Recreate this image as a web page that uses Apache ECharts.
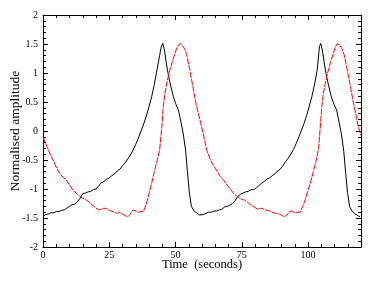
<!DOCTYPE html>
<html>
<head>
<meta charset="utf-8">
<script src="https://cdn.jsdelivr.net/npm/echarts@6/dist/echarts.min.js"></script>
<style>html,body{margin:0;padding:0;background:#fff}#c{width:376px;height:291px}</style>
</head>
<body>
<div id="c"></div>
<script>
var blackTime = [0,1,2,3,4,5,6,7,8,9,10,11,12,13,14,15,16,17,18,19,20,21,22,23,24,25,26,27,28,29,30,31,32,33,34,35,36,37,38,39,40,41,42,43,44,44.6,45.2,45.8,46.7,47.5,48.3,49.2,50.1,51.1,52,52.9,53.8,54.5,55.2,56,57,58,59,59.6,60.5,61.5,62.5,63.5,64.5,65.5,66.5,67.5,68.5,69.5,70.5,71.5,72.5,73.5,74.5,75.5,76.5,77.5,78.5,79.5,80.5,81.5,82.5,83.5,84.5,85.5,86.5,87.5,88.5,89.5,90.5,91.5,92.5,93.5,94.5,95.5,96.5,97.5,98.5,99.5,100.5,101.5,102.5,103.5,104.1,104.3,104.8,105.4,106.3,107.1,107.9,108.8,109.8,110.8,111.7,112.6,113.5,114.2,114.9,115.7,116.6,117.5,118.5,119.6];
var blackAmp = [-1.47,-1.44,-1.43,-1.41,-1.41,-1.39,-1.39,-1.37,-1.36,-1.33,-1.30,-1.27,-1.26,-1.22,-1.16,-1.08,-1.07,-1.05,-1.04,-1.01,-1.00,-0.95,-0.89,-0.87,-0.83,-0.81,-0.77,-0.74,-0.69,-0.66,-0.60,-0.55,-0.48,-0.41,-0.33,-0.23,-0.12,0.00,0.12,0.26,0.42,0.59,0.80,1.05,1.30,1.45,1.51,1.40,1.12,0.92,0.76,0.59,0.47,0.36,0.17,-0.04,-0.33,-0.70,-1.05,-1.30,-1.38,-1.41,-1.45,-1.47,-1.44,-1.42,-1.40,-1.40,-1.38,-1.38,-1.36,-1.35,-1.31,-1.30,-1.28,-1.25,-1.20,-1.13,-1.09,-1.07,-1.05,-1.04,-1.01,-1.01,-0.98,-0.94,-0.90,-0.87,-0.83,-0.81,-0.77,-0.74,-0.69,-0.66,-0.60,-0.53,-0.47,-0.40,-0.32,-0.22,-0.11,0.01,0.13,0.27,0.43,0.60,0.81,1.06,1.35,1.45,1.51,1.40,1.12,0.92,0.76,0.59,0.46,0.36,0.16,-0.05,-0.35,-0.72,-1.06,-1.30,-1.38,-1.42,-1.45,-1.48];
var redTime = [0,1,2,3,4,5,6,7,8,9,10,11,12,13,14,15,16,17,18,19,20,21,22,23,24,25,26,27,28,29,30,31,32,33,34,35,36,37,38,39,40,41,42,43,44,44.8,45.4,46,46.7,47.3,47.9,48.8,49.8,50.7,51.7,52.6,53.4,54.2,55.2,56.1,57,57.8,58.6,59.5,60.5,61.8,63,64,65,66,67,68,69,70,71,72,73,74,75,76,77,78,79,80,81,82,83,84,85,86,87,88,89,90,91,92,93,94,95,96,97,98,99,100,101,102,103,104,104.6,105.2,105.8,106.5,107.1,107.7,108.6,109.6,110.3,111.1,112,112.8,113.6,114.6,115.8,117,118,119,120];
var redAmp = [-0.10,-0.22,-0.32,-0.43,-0.52,-0.62,-0.71,-0.77,-0.81,-0.86,-0.93,-1.00,-1.05,-1.09,-1.13,-1.16,-1.18,-1.21,-1.25,-1.29,-1.33,-1.36,-1.35,-1.33,-1.34,-1.37,-1.38,-1.40,-1.42,-1.40,-1.43,-1.46,-1.48,-1.43,-1.36,-1.38,-1.40,-1.39,-1.38,-1.26,-1.08,-0.90,-0.70,-0.52,-0.33,0.05,0.42,0.65,0.82,0.95,1.05,1.20,1.34,1.45,1.51,1.47,1.42,1.32,1.10,0.88,0.65,0.46,0.31,0.14,-0.05,-0.33,-0.48,-0.57,-0.64,-0.72,-0.79,-0.84,-0.90,-0.96,-1.02,-1.08,-1.12,-1.15,-1.18,-1.19,-1.22,-1.26,-1.29,-1.32,-1.35,-1.33,-1.34,-1.36,-1.37,-1.39,-1.41,-1.42,-1.43,-1.45,-1.48,-1.45,-1.39,-1.38,-1.41,-1.40,-1.40,-1.30,-1.18,-1.02,-0.88,-0.70,-0.53,-0.30,0.05,0.42,0.65,0.82,0.95,1.05,1.20,1.34,1.45,1.51,1.47,1.42,1.32,1.10,0.82,0.52,0.30,0.07,-0.08];
var xTicks = {min: 0, max: 120, major: 25, minor: 5};
var yTicks = {min: -2, max: 2, major: 0.5};

function pairs(t, v) { return t.map(function (x, i) { return [x, v[i]]; }); }

var font = 'Liberation Serif';
var blk = '#000';
function xAx(pos, interval, len, labels, line) {
  return {
    type: 'value', position: pos, min: xTicks.min, max: xTicks.max, interval: interval,
    axisLine: {show: line, onZero: false, lineStyle: {color: blk, width: 1}},
    axisTick: {show: true, inside: true, length: len, lineStyle: {color: blk, width: 1}},
    axisLabel: {show: labels, color: blk, fontFamily: font, fontSize: 10, margin: 3, showMaxLabel: false},
    splitLine: {show: false}
  };
}
var xAxes = [xAx('bottom', xTicks.major, 5, true, true), xAx('bottom', xTicks.minor, 3, false, false),
             xAx('top', xTicks.major, 5, false, true), xAx('top', xTicks.minor, 3, false, false)];
xAxes[0].name = 'Time  (seconds)';
xAxes[0].nameLocation = 'middle';
xAxes[0].nameGap = 11;
xAxes[0].nameMoveOverlap = false;
xAxes[0].nameTextStyle = {color: blk, fontFamily: font, fontSize: 12.5, verticalAlign: 'top'};

function yAx(pos, labels) {
  return {
    type: 'value', position: pos, min: yTicks.min, max: yTicks.max, interval: yTicks.major,
    axisLine: {show: true, onZero: false, lineStyle: {color: blk, width: 1}},
    axisTick: {show: true, inside: true, length: 5, lineStyle: {color: blk, width: 1}},
    minorTick: {show: true, splitNumber: 5, length: 3, lineStyle: {color: blk, width: 1}},
    axisLabel: {show: labels, color: blk, fontFamily: font, fontSize: 10, margin: 5},
    splitLine: {show: false}, minorSplitLine: {show: false}
  };
}
var yAxes = [yAx('left', true), yAx('right', false)];
yAxes[0].name = 'Normalised amplitude';
yAxes[0].nameLocation = 'middle';
yAxes[0].nameGap = 21;
yAxes[0].nameMoveOverlap = false;
yAxes[0].nameTextStyle = {color: blk, fontFamily: font, fontSize: 13.5};

var chart = echarts.init(document.getElementById('c'), null, {renderer: 'canvas'});
chart.setOption({
  animation: false,
  backgroundColor: '#fff',
  grid: {left: 43, top: 15, right: 15, bottom: 44, containLabel: false, outerBoundsMode: 'none'},
  xAxis: xAxes,
  yAxis: yAxes,
  series: [
    {type: 'line', xAxisIndex: 0, yAxisIndex: 0, data: pairs(blackTime, blackAmp), showSymbol: false, symbol: 'none',
     lineStyle: {color: '#000', width: 1}},
    {type: 'line', xAxisIndex: 0, yAxisIndex: 0, data: pairs(redTime, redAmp), showSymbol: false, symbol: 'none',
     lineStyle: {color: '#ff0000', width: 1, type: [6, 1]}}
  ]
});
</script>
</body>
</html>
